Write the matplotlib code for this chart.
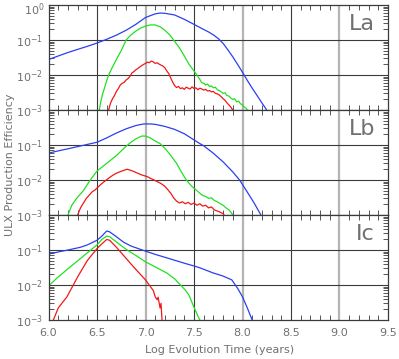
import numpy as np
import matplotlib
matplotlib.use('Agg')
import matplotlib.pyplot as plt
from matplotlib.ticker import FixedLocator, FixedFormatter, LogLocator, MultipleLocator, NullFormatter

# ---- panel La ----
la_blue_t = [6.0, 6.005, 6.1, 6.2, 6.3, 6.4, 6.5, 6.6, 6.7, 6.8, 6.9, 7.0, 7.1, 7.15, 7.2, 7.3,
             7.4, 7.5, 7.6, 7.65, 7.7, 7.75, 7.8, 7.85, 7.9, 7.95, 8.0, 8.05, 8.1, 8.15, 8.2, 8.25]
la_blue = [0.016, 0.028, 0.035, 0.044, 0.054, 0.066, 0.082, 0.105, 0.138, 0.19, 0.28, 0.44, 0.56,
           0.59, 0.58, 0.52, 0.39, 0.28, 0.2, 0.17, 0.14, 0.11, 0.08, 0.052, 0.033, 0.02, 0.012,
           0.007, 0.0042, 0.0026, 0.0016, 0.001]

la_green_t = [6.52, 6.54, 6.56, 6.58, 6.60, 6.62, 6.65, 6.70, 6.75, 6.80, 6.85, 6.90, 6.95, 7.00,
              7.05, 7.10, 7.15, 7.20, 7.25, 7.29, 7.35, 7.40, 7.45, 7.50, 7.53,
              7.56, 7.58, 7.60, 7.62, 7.64, 7.66, 7.68, 7.70, 7.72, 7.74, 7.76, 7.78, 7.80, 7.82,
              7.84, 7.86, 7.88, 7.90, 7.92, 7.94, 7.96, 7.98, 8.00, 8.02, 8.04, 8.06]
la_green = [0.0009, 0.0018, 0.003, 0.0045, 0.007, 0.01, 0.015, 0.028, 0.05, 0.1, 0.14, 0.18, 0.22,
            0.25, 0.27, 0.27, 0.24, 0.19, 0.14, 0.1, 0.06, 0.035, 0.02, 0.013, 0.01,
            0.0075, 0.0060, 0.0058, 0.0052, 0.0055, 0.0047, 0.0049, 0.0043, 0.0045, 0.0038, 0.0036,
            0.0033, 0.0030, 0.0031, 0.0026, 0.0025, 0.0022, 0.0020, 0.0021, 0.0017, 0.0018, 0.0015,
            0.0014, 0.0012, 0.0011, 0.0009]

la_red_t = [6.62, 6.64, 6.66, 6.68, 6.70, 6.72, 6.74, 6.76, 6.78, 6.80, 6.82, 6.84, 6.86, 6.88,
            6.90, 6.92, 6.94, 6.96, 6.98, 7.00, 7.02, 7.04, 7.06, 7.08, 7.10, 7.12, 7.14, 7.16,
            7.18, 7.20, 7.22, 7.24, 7.26, 7.28, 7.30, 7.32, 7.34, 7.36, 7.38, 7.40, 7.42, 7.44,
            7.46, 7.48, 7.50, 7.52, 7.54, 7.56, 7.58, 7.60, 7.62, 7.64, 7.66, 7.68, 7.70, 7.72,
            7.74, 7.76, 7.78, 7.80, 7.82, 7.84, 7.86, 7.88, 7.90]
la_red = [0.001, 0.0016, 0.0021, 0.0026, 0.0034, 0.0041, 0.0052, 0.0058, 0.0062, 0.0072, 0.0079,
          0.0092, 0.0115, 0.0125, 0.0141, 0.0152, 0.0170, 0.0185, 0.0201, 0.0215, 0.0232, 0.0226,
          0.0250, 0.0238, 0.0215, 0.0224, 0.0205, 0.0192, 0.0180, 0.0160, 0.0130, 0.0110, 0.0082,
          0.0063, 0.0050, 0.0044, 0.0047, 0.0041, 0.0043, 0.0039, 0.0045, 0.0042, 0.0040, 0.0046,
          0.0041, 0.0043, 0.0038, 0.0042, 0.0040, 0.0037, 0.0039, 0.0035, 0.0036, 0.0033, 0.0034,
          0.0030, 0.0029, 0.0027, 0.0024, 0.0021, 0.0019, 0.0016, 0.0014, 0.0012, 0.0010]

# ---- panel Lb ----
lb_blue_t = [6.0, 6.005, 6.1, 6.2, 6.3, 6.4, 6.5, 6.6, 6.7, 6.8, 6.9, 6.98, 7.05, 7.1, 7.2, 7.3,
             7.4, 7.5, 7.56, 7.6, 7.7, 7.8, 7.9, 7.97, 8.05, 8.12, 8.19]
lb_blue = [0.025, 0.059, 0.068, 0.078, 0.09, 0.104, 0.12, 0.16, 0.22, 0.29, 0.36, 0.4, 0.4, 0.39,
           0.34, 0.28, 0.21, 0.14, 0.11, 0.095, 0.058, 0.033, 0.017, 0.01, 0.0045, 0.0022, 0.001]

lb_green_t = [6.20, 6.24, 6.29, 6.36, 6.43, 6.50, 6.60, 6.70, 6.79, 6.85, 6.90, 6.96, 7.00, 7.05,
              7.10, 7.15, 7.20, 7.25, 7.32, 7.37, 7.42, 7.48, 7.56, 7.59, 7.62, 7.65, 7.68,
              7.71, 7.74, 7.77, 7.80, 7.83, 7.86, 7.88, 7.90, 7.92]
lb_green = [0.001, 0.0019, 0.003, 0.005, 0.01, 0.018, 0.03, 0.05, 0.087, 0.12, 0.15, 0.18, 0.18,
            0.16, 0.13, 0.11, 0.08, 0.055, 0.03, 0.017, 0.01, 0.0065, 0.0042, 0.0036, 0.0034,
            0.0030, 0.0031, 0.0026, 0.0024, 0.0021, 0.0019, 0.0016, 0.0014, 0.0012, 0.0010, 0.0009]

lb_red_t = [6.30, 6.33, 6.36, 6.39, 6.42, 6.45, 6.48, 6.51, 6.54, 6.57, 6.60, 6.63, 6.66, 6.69,
            6.72, 6.75, 6.78, 6.81, 6.84, 6.87, 6.90, 6.93, 6.96, 6.99, 7.02, 7.05, 7.08, 7.11,
            7.14, 7.17, 7.20, 7.23, 7.26, 7.29, 7.32, 7.35, 7.38, 7.41, 7.44, 7.47, 7.50, 7.53,
            7.56, 7.59, 7.62, 7.65, 7.68, 7.71, 7.74, 7.77, 7.80, 7.82]
lb_red = [0.0010, 0.0016, 0.0022, 0.0030, 0.0037, 0.0046, 0.0052, 0.0063, 0.0075, 0.0088, 0.0102,
          0.0118, 0.0135, 0.0152, 0.0165, 0.0178, 0.0190, 0.0203, 0.0192, 0.0180, 0.0165, 0.0152,
          0.0140, 0.0132, 0.0124, 0.0112, 0.0103, 0.0093, 0.0085, 0.0076, 0.0066, 0.0053, 0.0042,
          0.0031, 0.0025, 0.0022, 0.0024, 0.0021, 0.0023, 0.0020, 0.0022, 0.0019, 0.0021, 0.0018,
          0.0019, 0.0016, 0.0017, 0.0014, 0.0013, 0.0012, 0.0011, 0.0009]

# ---- panel Ic ----
ic_blue_t = [6.0, 6.005, 6.1, 6.2, 6.33, 6.4, 6.5, 6.55, 6.6, 6.63, 6.7, 6.77, 6.85, 7.0, 7.1,
             7.2, 7.29, 7.4, 7.5, 7.56, 7.7, 7.8, 7.89, 7.95, 8.0, 8.05, 8.1]
ic_blue = [0.03, 0.077, 0.088, 0.1, 0.12, 0.14, 0.19, 0.25, 0.35, 0.33, 0.24, 0.17, 0.13, 0.093,
           0.075, 0.062, 0.052, 0.042, 0.035, 0.031, 0.022, 0.018, 0.014, 0.008, 0.0046, 0.0022,
           0.001]

ic_green_t = [6.0, 6.01, 6.1, 6.2, 6.3, 6.4, 6.5, 6.55, 6.6, 6.63, 6.7, 6.77, 6.85, 6.9, 7.0,
              7.1, 7.22, 7.3, 7.41, 7.45, 7.5, 7.53, 7.56]
ic_green = [0.004, 0.01, 0.017, 0.029, 0.049, 0.083, 0.14, 0.2, 0.25, 0.24, 0.17, 0.12, 0.085,
            0.07, 0.046, 0.033, 0.022, 0.015, 0.0072, 0.005, 0.0023, 0.0015, 0.001]

ic_red_t = [6.05, 6.1, 6.19, 6.3, 6.4, 6.5, 6.55, 6.6, 6.63, 6.7, 6.77, 6.85, 6.9, 7.0, 7.05,
            7.08, 7.1, 7.12, 7.13, 7.15, 7.16, 7.17]
ic_red = [0.001, 0.0022, 0.0046, 0.017, 0.05, 0.11, 0.15, 0.2, 0.19, 0.12, 0.072, 0.04, 0.028,
          0.014, 0.009, 0.007, 0.0046, 0.0038, 0.0045, 0.0022, 0.003, 0.001]

panels = [
    ('La', (la_blue_t, la_blue), (la_green_t, la_green), (la_red_t, la_red)),
    ('Lb', (lb_blue_t, lb_blue), (lb_green_t, lb_green), (lb_red_t, lb_red)),
    ('Ic', (ic_blue_t, ic_blue), (ic_green_t, ic_green), (ic_red_t, ic_red)),
]

txt = '#707070'
dark = '#3a3a3a'
light = '#b4b4b4'

fig, axes = plt.subplots(3, 1, figsize=(3.99, 3.59), dpi=100, sharex=True)
fig.subplots_adjust(left=0.1216, right=0.9724, top=0.986, bottom=0.1086, hspace=0)

for i, (ax, (name, b, g, r)) in enumerate(zip(axes, panels)):
    ax.set_yscale('log')
    ax.set_ylim(1e-3, 1)
    ax.set_xlim(6.0, 9.5)

    # grid lines
    for x in [6.5, 7.5, 8.5]:
        ax.axvline(x, color=dark, lw=0.8, zorder=0)
    for x in [7.0, 8.0, 9.0]:
        ax.axvline(x, color=light, lw=1.6, zorder=0)
    for y in [1e-1, 1e-2]:
        ax.axhline(y, color=dark, lw=0.8, zorder=0)

    ax.plot(b[0], b[1], color='#2a40f0', lw=0.9)
    ax.plot(g[0], g[1], color='#22e022', lw=0.9)
    ax.plot(r[0], r[1], color='#f01818', lw=0.9)

    ax.text(0.962, 0.82, name, transform=ax.transAxes, ha='right', va='center',
            fontsize=16, color=txt)

    yt = [1e-1, 1e-2, 1e-3]
    yl = [r'$10^{-1}$', r'$10^{-2}$', r'$10^{-3}$']
    ax.yaxis.set_major_locator(FixedLocator(yt))
    ax.yaxis.set_major_formatter(FixedFormatter(yl))
    ax.yaxis.set_minor_locator(LogLocator(base=10, subs=np.arange(2, 10)))
    ax.yaxis.set_minor_formatter(NullFormatter())
    ax.xaxis.set_major_locator(MultipleLocator(0.5))
    ax.xaxis.set_minor_locator(MultipleLocator(0.1))

    ax.tick_params(which='both', direction='in', top=True, right=True, colors=dark,
                   labelcolor=txt, labelsize=8)
    ax.tick_params(which='major', length=0, pad=4)
    ax.tick_params(which='minor', length=3.5, width=0.6)
    for s in ax.spines.values():
        s.set_color(dark)
        s.set_linewidth(0.9)

# top label 10^0 sits a little below the frame top so it isn't clipped
axes[0].text(-0.012, 0.955, r'$10^{0}$', transform=axes[0].transAxes, ha='right',
             va='center', fontsize=8, color=txt)

axes[-1].set_xticks([6.0, 6.5, 7.0, 7.5, 8.0, 8.5, 9.0, 9.5])
axes[-1].set_xticklabels(['6.0', '6.5', '7.0', '7.5', '8.0', '8.5', '9.0', '9.5'])
axes[-1].tick_params(axis='x', pad=6)

fig.text(0.55, 0.025, 'Log Evolution Time (years)', ha='center', va='center',
         fontsize=8, color=txt)
fig.text(0.025, 0.54, 'ULX Production Efficiency', ha='center', va='center',
         rotation=90, fontsize=8, color=txt)

fig.savefig('out.png', dpi=100)
